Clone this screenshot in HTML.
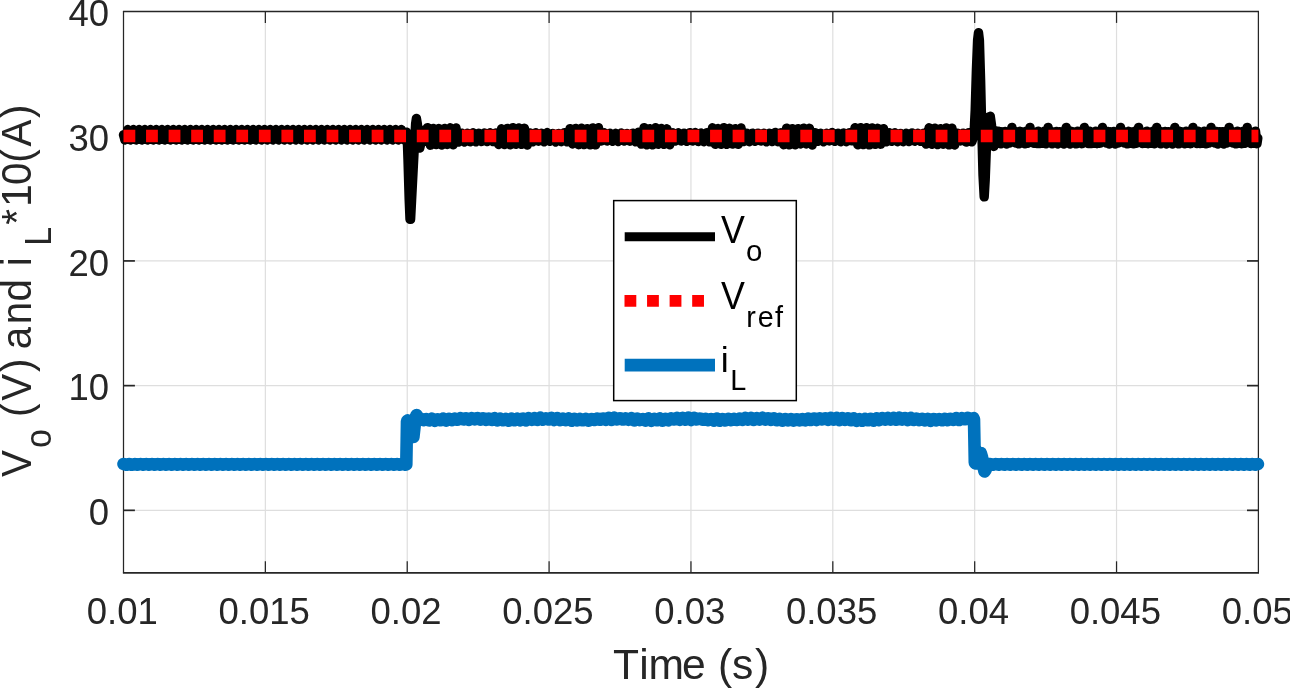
<!DOCTYPE html>
<html lang="en"><head><meta charset="utf-8"><title>Vo, Vref and iL</title>
<style>html,body{margin:0;padding:0;background:#fff}body{width:1290px;height:688px;overflow:hidden}svg{display:block}text{font-family:"Liberation Sans",Arial,Helvetica,sans-serif;fill:#262626;font-kerning:none}</style></head><body>
<svg width="1290" height="688" viewBox="0 0 1290 688">
<rect x="0" y="0" width="1290" height="688" fill="#fff"/>
<g stroke="#dedede" stroke-width="1.2" fill="none">
<line x1="265.36" y1="11.5" x2="265.36" y2="572.7"/>
<line x1="407.23" y1="11.5" x2="407.23" y2="572.7"/>
<line x1="549.09" y1="11.5" x2="549.09" y2="572.7"/>
<line x1="690.95" y1="11.5" x2="690.95" y2="572.7"/>
<line x1="832.81" y1="11.5" x2="832.81" y2="572.7"/>
<line x1="974.68" y1="11.5" x2="974.68" y2="572.7"/>
<line x1="1116.54" y1="11.5" x2="1116.54" y2="572.7"/>
</g><g stroke="#dedede" stroke-width="1.4" fill="none">
<line x1="123.5" y1="510.34" x2="1258.4" y2="510.34"/>
<line x1="123.5" y1="385.63" x2="1258.4" y2="385.63"/>
<line x1="123.5" y1="260.92" x2="1258.4" y2="260.92"/>
<line x1="123.5" y1="136.21" x2="1258.4" y2="136.21"/>
</g>
<g stroke="#262626" fill="none">
<line x1="122.90" y1="11.50" x2="1259.00" y2="11.50" stroke-width="1.7"/>
<line x1="122.90" y1="572.85" x2="1259.00" y2="572.85" stroke-width="1.85"/>
<line x1="123.50" y1="11.50" x2="123.50" y2="572.70" stroke-width="1.25"/>
<line x1="1258.40" y1="11.50" x2="1258.40" y2="572.70" stroke-width="1.25"/>
<line x1="265.36" y1="572.70" x2="265.36" y2="561.30" stroke-width="1.25"/>
<line x1="265.36" y1="11.50" x2="265.36" y2="22.90" stroke-width="1.25"/>
<line x1="407.23" y1="572.70" x2="407.23" y2="561.30" stroke-width="1.25"/>
<line x1="407.23" y1="11.50" x2="407.23" y2="22.90" stroke-width="1.25"/>
<line x1="549.09" y1="572.70" x2="549.09" y2="561.30" stroke-width="1.25"/>
<line x1="549.09" y1="11.50" x2="549.09" y2="22.90" stroke-width="1.25"/>
<line x1="690.95" y1="572.70" x2="690.95" y2="561.30" stroke-width="1.25"/>
<line x1="690.95" y1="11.50" x2="690.95" y2="22.90" stroke-width="1.25"/>
<line x1="832.81" y1="572.70" x2="832.81" y2="561.30" stroke-width="1.25"/>
<line x1="832.81" y1="11.50" x2="832.81" y2="22.90" stroke-width="1.25"/>
<line x1="974.68" y1="572.70" x2="974.68" y2="561.30" stroke-width="1.25"/>
<line x1="974.68" y1="11.50" x2="974.68" y2="22.90" stroke-width="1.25"/>
<line x1="1116.54" y1="572.70" x2="1116.54" y2="561.30" stroke-width="1.25"/>
<line x1="1116.54" y1="11.50" x2="1116.54" y2="22.90" stroke-width="1.25"/>
<line x1="123.50" y1="510.34" x2="134.90" y2="510.34" stroke-width="1.7"/>
<line x1="1258.40" y1="510.34" x2="1247.00" y2="510.34" stroke-width="1.7"/>
<line x1="123.50" y1="385.63" x2="134.90" y2="385.63" stroke-width="1.7"/>
<line x1="1258.40" y1="385.63" x2="1247.00" y2="385.63" stroke-width="1.7"/>
<line x1="123.50" y1="260.92" x2="134.90" y2="260.92" stroke-width="1.7"/>
<line x1="1258.40" y1="260.92" x2="1247.00" y2="260.92" stroke-width="1.7"/>
<line x1="123.50" y1="136.21" x2="134.90" y2="136.21" stroke-width="1.7"/>
<line x1="1258.40" y1="136.21" x2="1247.00" y2="136.21" stroke-width="1.7"/>
</g>
<path d="M123.5 134.8 L124.2 137.4 L124.9 140.0 L125.6 137.4 L126.4 134.7 L127.1 132.1 L127.8 129.5 L128.5 132.1 L129.2 134.8 L129.9 137.4 L130.6 140.0 L131.3 137.4 L132.1 134.7 L132.8 132.1 L133.5 129.5 L134.2 132.1 L134.9 134.8 L135.6 137.4 L136.3 140.0 L137.0 137.4 L137.8 134.7 L138.5 132.1 L139.2 129.5 L139.9 132.1 L140.6 134.8 L141.3 137.4 L142.0 140.0 L142.7 137.4 L143.5 134.7 L144.2 132.1 L144.9 129.5 L145.6 132.1 L146.3 134.8 L147.0 137.4 L147.7 140.0 L148.4 137.4 L149.2 134.7 L149.9 132.1 L150.6 129.5 L151.3 132.1 L152.0 134.8 L152.7 137.4 L153.4 140.0 L154.1 137.4 L154.9 134.7 L155.6 132.1 L156.3 129.5 L157.0 132.1 L157.7 134.8 L158.4 137.4 L159.1 140.0 L159.8 137.4 L160.6 134.7 L161.3 132.1 L162.0 129.5 L162.7 132.1 L163.4 134.8 L164.1 137.4 L164.8 140.0 L165.5 137.4 L166.3 134.7 L167.0 132.1 L167.7 129.5 L168.4 132.1 L169.1 134.8 L169.8 137.4 L170.5 140.0 L171.2 137.4 L172.0 134.7 L172.7 132.1 L173.4 129.5 L174.1 132.1 L174.8 134.8 L175.5 137.4 L176.2 140.0 L176.9 137.4 L177.7 134.7 L178.4 132.1 L179.1 129.5 L179.8 132.1 L180.5 134.8 L181.2 137.4 L181.9 140.0 L182.6 137.4 L183.4 134.7 L184.1 132.1 L184.8 129.5 L185.5 132.1 L186.2 134.8 L186.9 137.4 L187.6 140.0 L188.3 137.4 L189.1 134.7 L189.8 132.1 L190.5 129.5 L191.2 132.1 L191.9 134.8 L192.6 137.4 L193.3 140.0 L194.0 137.4 L194.8 134.7 L195.5 132.1 L196.2 129.5 L196.9 132.1 L197.6 134.8 L198.3 137.4 L199.0 140.0 L199.7 137.4 L200.5 134.7 L201.2 132.1 L201.9 129.5 L202.6 132.1 L203.3 134.8 L204.0 137.4 L204.7 140.0 L205.4 137.4 L206.2 134.7 L206.9 132.1 L207.6 129.5 L208.3 132.1 L209.0 134.8 L209.7 137.4 L210.4 140.0 L211.1 137.4 L211.9 134.7 L212.6 132.1 L213.3 129.5 L214.0 132.1 L214.7 134.8 L215.4 137.4 L216.1 140.0 L216.8 137.4 L217.6 134.7 L218.3 132.1 L219.0 129.5 L219.7 132.1 L220.4 134.8 L221.1 137.4 L221.8 140.0 L222.5 137.4 L223.3 134.7 L224.0 132.1 L224.7 129.5 L225.4 132.1 L226.1 134.8 L226.8 137.4 L227.5 140.0 L228.2 137.4 L229.0 134.7 L229.7 132.1 L230.4 129.5 L231.1 132.1 L231.8 134.8 L232.5 137.4 L233.2 140.0 L233.9 137.4 L234.7 134.7 L235.4 132.1 L236.1 129.5 L236.8 132.1 L237.5 134.8 L238.2 137.4 L238.9 140.0 L239.6 137.4 L240.4 134.7 L241.1 132.1 L241.8 129.5 L242.5 132.1 L243.2 134.8 L243.9 137.4 L244.6 140.0 L245.3 137.4 L246.1 134.7 L246.8 132.1 L247.5 129.5 L248.2 132.1 L248.9 134.8 L249.6 137.4 L250.3 140.0 L251.0 137.4 L251.8 134.7 L252.5 132.1 L253.2 129.5 L253.9 132.1 L254.6 134.8 L255.3 137.4 L256.0 140.0 L256.7 137.4 L257.5 134.7 L258.2 132.1 L258.9 129.5 L259.6 132.1 L260.3 134.8 L261.0 137.4 L261.7 140.0 L262.4 137.4 L263.2 134.7 L263.9 132.1 L264.6 129.5 L265.3 132.1 L266.0 134.8 L266.7 137.4 L267.4 140.0 L268.1 137.4 L268.9 134.7 L269.6 132.1 L270.3 129.5 L271.0 132.1 L271.7 134.8 L272.4 137.4 L273.1 140.0 L273.8 137.4 L274.6 134.7 L275.3 132.1 L276.0 129.5 L276.7 132.1 L277.4 134.8 L278.1 137.4 L278.8 140.0 L279.5 137.4 L280.3 134.7 L281.0 132.1 L281.7 129.5 L282.4 132.1 L283.1 134.8 L283.8 137.4 L284.5 140.0 L285.2 137.4 L286.0 134.7 L286.7 132.1 L287.4 129.5 L288.1 132.1 L288.8 134.8 L289.5 137.4 L290.2 140.0 L290.9 137.4 L291.6 134.8 L292.4 132.1 L293.1 129.5 L293.8 132.1 L294.5 134.7 L295.2 137.4 L295.9 140.0 L296.6 137.4 L297.3 134.8 L298.1 132.1 L298.8 129.5 L299.5 132.1 L300.2 134.7 L300.9 137.4 L301.6 140.0 L302.3 137.4 L303.0 134.8 L303.8 132.1 L304.5 129.5 L305.2 132.1 L305.9 134.7 L306.6 137.4 L307.3 140.0 L308.0 137.4 L308.7 134.8 L309.5 132.1 L310.2 129.5 L310.9 132.1 L311.6 134.7 L312.3 137.4 L313.0 140.0 L313.7 137.4 L314.4 134.8 L315.2 132.1 L315.9 129.5 L316.6 132.1 L317.3 134.7 L318.0 137.4 L318.7 140.0 L319.4 137.4 L320.1 134.8 L320.9 132.1 L321.6 129.5 L322.3 132.1 L323.0 134.7 L323.7 137.4 L324.4 140.0 L325.1 137.4 L325.8 134.8 L326.6 132.1 L327.3 129.5 L328.0 132.1 L328.7 134.7 L329.4 137.4 L330.1 140.0 L330.8 137.4 L331.5 134.8 L332.3 132.1 L333.0 129.5 L333.7 132.1 L334.4 134.7 L335.1 137.4 L335.8 140.0 L336.5 137.4 L337.2 134.8 L338.0 132.1 L338.7 129.5 L339.4 132.1 L340.1 134.7 L340.8 137.4 L341.5 140.0 L342.2 137.4 L342.9 134.8 L343.7 132.1 L344.4 129.5 L345.1 132.1 L345.8 134.7 L346.5 137.4 L347.2 140.0 L347.9 137.4 L348.6 134.8 L349.4 132.1 L350.1 129.5 L350.8 132.1 L351.5 134.7 L352.2 137.4 L352.9 140.0 L353.6 137.4 L354.3 134.8 L355.1 132.1 L355.8 129.5 L356.5 132.1 L357.2 134.7 L357.9 137.4 L358.6 140.0 L359.3 137.4 L360.0 134.8 L360.8 132.1 L361.5 129.5 L362.2 132.1 L362.9 134.7 L363.6 137.4 L364.3 140.0 L365.0 137.4 L365.7 134.8 L366.5 132.1 L367.2 129.5 L367.9 132.1 L368.6 134.7 L369.3 137.4 L370.0 140.0 L370.7 137.4 L371.4 134.8 L372.2 132.1 L372.9 129.5 L373.6 132.1 L374.3 134.7 L375.0 137.4 L375.7 140.0 L376.4 137.4 L377.1 134.8 L377.9 132.1 L378.6 129.5 L379.3 132.1 L380.0 134.7 L380.7 137.4 L381.4 140.0 L382.1 137.4 L382.8 134.8 L383.6 132.1 L384.3 129.5 L385.0 132.1 L385.7 134.7 L386.4 137.4 L387.1 140.0 L387.8 137.4 L388.5 134.8 L389.3 132.1 L390.0 129.5 L390.7 132.1 L391.4 134.7 L392.1 137.4 L392.8 140.0 L393.5 137.4 L394.2 134.8 L395.0 132.1 L395.7 129.5 L396.4 132.1 L397.1 134.7 L397.8 137.4 L398.5 140.0 L399.2 137.4 L399.9 134.8 L400.7 132.1 L401.4 129.5 L402.1 132.1 L402.8 134.7 L403.5 137.4 L404.2 140.0 L404.9 137.4 L405.6 134.8 L406.4 132.1 L407.2 137.0 L408.0 160.0 L409.2 200.0 L410.0 219.3 L410.6 219.3 L411.6 200.0 L413.4 165.0 L414.7 140.0 L415.6 124.0 L416.4 118.4 L417.4 124.0 L418.5 139.0 L419.8 148.0 L421.2 142.0 L422.5 130.5 L423.2 136.9 L423.9 139.4 L424.6 141.3 L425.3 139.8 L426.0 136.6 L426.8 132.0 L427.5 127.6 L428.2 132.7 L428.9 136.1 L429.6 140.2 L430.3 145.2 L431.0 140.5 L431.7 136.8 L432.5 132.3 L433.2 128.4 L433.9 131.9 L434.6 136.6 L435.3 140.9 L436.0 144.6 L436.7 140.8 L437.4 136.6 L438.2 131.8 L438.9 128.5 L439.6 132.4 L440.3 136.2 L441.0 139.9 L441.7 145.0 L442.4 140.5 L443.1 136.7 L443.9 132.8 L444.6 128.5 L445.3 132.8 L446.0 136.3 L446.7 140.9 L447.4 144.5 L448.1 141.0 L448.8 136.9 L449.6 131.8 L450.3 127.8 L451.0 132.0 L451.7 137.0 L452.4 140.4 L453.1 144.8 L453.8 140.3 L454.5 136.4 L455.3 132.2 L456.0 128.0 L456.7 132.5 L457.4 136.5 L458.1 139.7 L458.8 142.0 L459.5 139.9 L460.2 137.6 L461.0 135.6 L461.7 133.1 L462.4 134.6 L463.1 137.6 L463.8 139.9 L464.5 142.0 L465.2 139.4 L465.9 137.5 L466.7 134.7 L467.4 133.3 L468.1 135.1 L468.8 136.9 L469.5 138.8 L470.2 141.9 L470.9 139.9 L471.6 136.7 L472.4 135.4 L473.1 132.8 L473.8 134.6 L474.5 137.0 L475.2 139.7 L475.9 141.9 L476.6 138.8 L477.3 137.3 L478.1 134.5 L478.8 133.2 L479.5 134.8 L480.2 137.7 L480.9 139.9 L481.6 141.5 L482.3 139.9 L483.0 137.0 L483.8 134.5 L484.5 133.0 L485.2 134.5 L485.9 136.8 L486.6 139.2 L487.3 141.6 L488.0 138.9 L488.7 136.7 L489.5 135.5 L490.2 132.7 L490.9 135.6 L491.6 137.7 L492.3 139.2 L493.0 141.5 L493.7 139.4 L494.4 137.4 L495.2 135.2 L495.9 133.0 L496.6 134.0 L497.3 136.9 L498.0 140.3 L498.7 144.5 L499.4 140.8 L500.1 136.1 L500.9 132.1 L501.6 128.8 L502.3 132.3 L503.0 136.5 L503.7 139.9 L504.4 144.5 L505.1 140.6 L505.8 135.8 L506.6 132.4 L507.3 128.4 L508.0 131.8 L508.7 136.6 L509.4 140.5 L510.1 144.8 L510.8 140.3 L511.5 136.6 L512.3 132.6 L513.0 127.6 L513.7 131.8 L514.4 136.6 L515.1 141.1 L515.8 144.3 L516.5 140.4 L517.2 136.5 L518.0 132.1 L518.7 128.0 L519.4 132.1 L520.1 136.2 L520.8 140.6 L521.5 144.4 L522.2 140.4 L522.9 136.7 L523.7 131.7 L524.4 128.3 L525.1 132.6 L525.8 136.2 L526.5 140.2 L527.2 145.0 L527.9 140.0 L528.6 136.0 L529.4 133.5 L530.1 132.9 L530.8 134.6 L531.5 137.0 L532.2 139.2 L532.9 141.9 L533.6 139.3 L534.3 137.6 L535.1 134.7 L535.8 132.7 L536.5 135.2 L537.2 137.7 L537.9 139.3 L538.6 141.2 L539.3 138.9 L540.0 137.2 L540.8 134.7 L541.5 133.3 L542.2 135.5 L542.9 136.8 L543.6 139.1 L544.3 141.9 L545.0 139.5 L545.7 137.6 L546.5 134.9 L547.2 132.5 L547.9 134.8 L548.6 137.6 L549.3 139.1 L550.0 141.3 L550.7 139.3 L551.4 137.1 L552.2 134.9 L552.9 133.4 L553.6 134.6 L554.3 136.6 L555.0 139.9 L555.7 142.0 L556.4 139.9 L557.1 137.1 L557.9 135.6 L558.6 133.4 L559.3 134.7 L560.0 137.5 L560.7 139.8 L561.4 141.7 L562.1 139.4 L562.8 136.9 L563.6 134.9 L564.3 132.6 L565.0 134.5 L565.7 137.3 L566.4 139.1 L567.1 141.9 L567.8 138.4 L568.5 136.9 L569.3 132.7 L570.0 128.7 L570.7 132.8 L571.4 136.9 L572.1 140.6 L572.8 144.0 L573.5 140.8 L574.2 136.0 L575.0 132.1 L575.7 128.4 L576.4 132.3 L577.1 136.3 L577.8 141.0 L578.5 144.7 L579.2 140.3 L579.9 136.1 L580.7 132.7 L581.4 128.2 L582.1 132.6 L582.8 136.2 L583.5 140.1 L584.2 144.6 L584.9 140.9 L585.6 136.0 L586.4 132.7 L587.1 128.7 L587.8 132.7 L588.5 136.8 L589.2 139.9 L589.9 144.8 L590.6 140.9 L591.3 135.9 L592.1 132.0 L592.8 127.9 L593.5 132.3 L594.2 136.3 L594.9 140.5 L595.6 144.9 L596.3 139.9 L597.0 135.9 L597.8 131.9 L598.5 127.7 L599.2 132.0 L599.9 137.0 L600.6 139.6 L601.3 141.1 L602.0 139.4 L602.7 137.0 L603.5 134.8 L604.2 132.7 L604.9 135.2 L605.6 137.3 L606.3 139.2 L607.0 141.1 L607.7 139.1 L608.4 136.7 L609.2 135.1 L609.9 133.2 L610.6 134.9 L611.3 136.7 L612.0 139.0 L612.7 141.3 L613.4 139.5 L614.1 137.5 L614.9 134.9 L615.6 133.3 L616.3 135.2 L617.0 137.1 L617.7 139.2 L618.4 141.5 L619.1 139.6 L619.8 137.1 L620.6 135.3 L621.3 132.9 L622.0 134.7 L622.7 137.2 L623.4 139.6 L624.1 141.0 L624.8 139.3 L625.5 137.1 L626.3 135.5 L627.0 133.4 L627.7 134.9 L628.4 137.7 L629.1 139.7 L629.8 141.2 L630.5 139.3 L631.2 136.7 L632.0 135.4 L632.7 133.1 L633.4 135.5 L634.1 137.6 L634.8 139.6 L635.5 141.8 L636.2 139.4 L636.9 136.7 L637.7 135.2 L638.4 132.3 L639.1 133.3 L639.8 136.7 L640.5 139.9 L641.2 144.1 L641.9 140.0 L642.6 136.9 L643.4 131.9 L644.1 127.6 L644.8 132.7 L645.5 135.9 L646.2 140.9 L646.9 144.8 L647.6 140.9 L648.3 136.9 L649.1 132.4 L649.8 128.6 L650.5 131.7 L651.2 136.7 L651.9 140.5 L652.6 144.9 L653.3 140.0 L654.0 136.7 L654.8 132.8 L655.5 127.7 L656.2 132.1 L656.9 136.5 L657.6 140.9 L658.3 144.3 L659.0 140.1 L659.7 136.1 L660.5 132.4 L661.2 128.5 L661.9 132.2 L662.6 136.2 L663.3 140.4 L664.0 144.4 L664.7 140.4 L665.4 135.9 L666.2 132.3 L666.9 128.8 L667.6 132.2 L668.3 136.7 L669.0 140.1 L669.7 144.8 L670.4 140.5 L671.1 136.6 L671.9 133.7 L672.6 132.8 L673.3 135.2 L674.0 137.7 L674.7 138.9 L675.4 141.0 L676.1 139.6 L676.8 137.7 L677.6 135.1 L678.3 132.8 L679.0 135.3 L679.7 136.8 L680.4 139.1 L681.1 141.1 L681.8 139.5 L682.5 137.0 L683.3 134.7 L684.0 133.1 L684.7 135.6 L685.4 137.0 L686.1 139.6 L686.8 141.4 L687.5 139.8 L688.2 137.3 L689.0 134.8 L689.7 132.6 L690.4 134.5 L691.1 137.2 L691.8 139.2 L692.5 141.1 L693.2 139.2 L693.9 137.0 L694.7 135.4 L695.4 132.5 L696.1 135.6 L696.8 137.2 L697.5 139.5 L698.2 141.5 L698.9 139.8 L699.6 137.6 L700.4 135.1 L701.1 132.9 L701.8 135.3 L702.5 137.6 L703.2 139.2 L703.9 141.8 L704.6 139.9 L705.3 137.2 L706.1 134.7 L706.8 132.6 L707.5 135.3 L708.2 137.4 L708.9 139.9 L709.6 141.9 L710.3 138.8 L711.0 136.0 L711.8 132.0 L712.5 127.8 L713.2 132.5 L713.9 136.8 L714.6 141.0 L715.3 144.3 L716.0 140.9 L716.7 136.2 L717.5 132.2 L718.2 128.5 L718.9 131.8 L719.6 135.9 L720.3 140.9 L721.0 144.4 L721.7 140.3 L722.4 136.5 L723.2 132.5 L723.9 127.6 L724.6 132.1 L725.3 136.3 L726.0 140.5 L726.7 144.3 L727.4 140.6 L728.1 136.9 L728.9 132.2 L729.6 128.3 L730.3 131.8 L731.0 136.1 L731.7 140.7 L732.4 144.1 L733.1 141.0 L733.8 136.9 L734.6 131.8 L735.3 128.7 L736.0 132.1 L736.7 136.7 L737.4 140.8 L738.1 144.4 L738.8 140.7 L739.5 136.6 L740.3 132.7 L741.0 127.9 L741.7 132.9 L742.4 137.0 L743.1 139.3 L743.8 141.5 L744.5 138.9 L745.2 137.2 L746.0 134.9 L746.7 133.2 L747.4 135.3 L748.1 137.3 L748.8 139.0 L749.5 141.7 L750.2 139.5 L750.9 136.8 L751.7 135.5 L752.4 133.1 L753.1 134.6 L753.8 137.7 L754.5 138.9 L755.2 141.3 L755.9 139.6 L756.6 137.3 L757.4 135.1 L758.1 133.1 L758.8 135.0 L759.5 137.0 L760.2 139.0 L760.9 141.0 L761.6 139.6 L762.3 137.5 L763.1 135.1 L763.8 133.2 L764.5 134.9 L765.2 136.9 L765.9 139.2 L766.6 141.9 L767.3 138.8 L768.0 137.2 L768.8 134.7 L769.5 133.2 L770.2 134.9 L770.9 137.0 L771.6 139.2 L772.3 141.5 L773.0 139.7 L773.7 137.0 L774.5 135.5 L775.2 132.4 L775.9 134.8 L776.6 136.7 L777.3 138.9 L778.0 141.8 L778.7 139.6 L779.4 136.8 L780.2 134.7 L780.9 132.8 L781.6 134.0 L782.3 136.8 L783.0 140.8 L783.7 144.7 L784.4 140.1 L785.1 136.3 L785.9 131.9 L786.6 128.2 L787.3 132.4 L788.0 136.0 L788.7 140.2 L789.4 144.9 L790.1 139.9 L790.8 136.8 L791.6 132.8 L792.3 128.7 L793.0 132.2 L793.7 136.5 L794.4 140.6 L795.1 144.8 L795.8 141.1 L796.5 136.6 L797.3 132.1 L798.0 128.6 L798.7 132.3 L799.4 136.5 L800.1 140.8 L800.8 144.0 L801.5 140.8 L802.2 136.6 L803.0 132.3 L803.7 128.2 L804.4 132.3 L805.1 136.0 L805.8 140.5 L806.5 144.0 L807.2 140.5 L807.9 136.6 L808.7 132.2 L809.4 128.3 L810.1 132.9 L810.8 136.9 L811.5 140.1 L812.2 145.0 L812.9 140.3 L813.6 135.9 L814.4 133.6 L815.1 132.6 L815.8 134.5 L816.5 137.2 L817.2 139.9 L817.9 141.3 L818.6 139.8 L819.3 137.4 L820.1 134.6 L820.8 133.3 L821.5 135.2 L822.2 137.7 L822.9 139.6 L823.6 141.8 L824.3 139.2 L825.0 137.6 L825.8 135.6 L826.5 133.3 L827.2 135.0 L827.9 137.5 L828.6 139.3 L829.3 141.0 L830.0 138.8 L830.7 136.7 L831.5 134.7 L832.2 132.5 L832.9 135.0 L833.6 137.4 L834.3 139.4 L835.0 141.4 L835.7 139.5 L836.4 137.0 L837.2 135.0 L837.9 133.2 L838.6 134.9 L839.3 136.8 L840.0 139.8 L840.7 141.8 L841.4 139.2 L842.1 137.0 L842.9 135.1 L843.6 133.0 L844.3 134.7 L845.0 136.6 L845.7 139.0 L846.4 141.8 L847.1 138.9 L847.8 137.2 L848.6 134.7 L849.3 132.6 L850.0 134.7 L850.7 137.1 L851.4 139.0 L852.1 140.9 L852.8 138.7 L853.5 136.0 L854.3 132.3 L855.0 127.7 L855.7 131.7 L856.4 136.3 L857.1 140.4 L857.8 144.8 L858.5 140.0 L859.2 136.3 L860.0 132.2 L860.7 127.6 L861.4 132.9 L862.1 136.1 L862.8 140.0 L863.5 144.6 L864.2 140.1 L864.9 136.5 L865.7 132.1 L866.4 127.7 L867.1 131.8 L867.8 136.7 L868.5 140.2 L869.2 144.9 L869.9 140.5 L870.6 136.9 L871.4 132.1 L872.1 127.9 L872.8 132.0 L873.5 136.8 L874.2 140.7 L874.9 144.4 L875.6 140.0 L876.3 136.6 L877.1 132.9 L877.8 128.3 L878.5 131.7 L879.2 135.8 L879.9 140.0 L880.6 144.2 L881.3 139.9 L882.0 135.9 L882.8 132.5 L883.5 128.7 L884.2 132.3 L884.9 137.0 L885.6 139.0 L886.3 141.9 L887.0 139.9 L887.7 137.7 L888.5 134.5 L889.2 132.7 L889.9 135.2 L890.6 137.7 L891.3 138.9 L892.0 141.3 L892.7 139.8 L893.4 136.7 L894.2 134.9 L894.9 132.7 L895.6 135.3 L896.3 137.7 L897.0 139.0 L897.7 141.8 L898.4 139.6 L899.1 137.6 L899.9 135.1 L900.6 133.4 L901.3 134.9 L902.0 137.1 L902.7 139.0 L903.4 141.8 L904.1 139.3 L904.8 136.9 L905.6 134.7 L906.3 133.2 L907.0 135.2 L907.7 137.5 L908.4 139.2 L909.1 141.5 L909.8 138.9 L910.5 137.5 L911.3 134.5 L912.0 132.9 L912.7 135.4 L913.4 137.4 L914.1 138.9 L914.8 141.2 L915.5 139.8 L916.2 137.4 L917.0 135.5 L917.7 133.3 L918.4 135.0 L919.1 137.7 L919.8 139.6 L920.5 141.3 L921.2 139.2 L921.9 136.7 L922.7 134.9 L923.4 133.4 L924.1 133.1 L924.8 136.5 L925.5 140.0 L926.2 144.1 L926.9 140.7 L927.6 136.1 L928.4 131.8 L929.1 127.8 L929.8 132.5 L930.5 136.5 L931.2 139.9 L931.9 144.3 L932.6 141.1 L933.3 136.1 L934.1 132.4 L934.8 128.1 L935.5 132.6 L936.2 136.5 L936.9 140.8 L937.6 144.6 L938.3 140.1 L939.0 136.0 L939.8 131.8 L940.5 128.6 L941.2 131.8 L941.9 135.8 L942.6 141.1 L943.3 144.2 L944.0 141.0 L944.7 135.9 L945.5 132.3 L946.2 127.9 L946.9 132.7 L947.6 136.5 L948.3 140.7 L949.0 144.9 L949.7 140.9 L950.4 136.2 L951.2 132.4 L951.9 128.1 L952.6 131.8 L953.3 136.8 L954.0 140.6 L954.7 145.0 L955.4 139.7 L956.1 136.4 L956.9 133.8 L957.6 133.2 L958.3 134.5 L959.0 137.0 L959.7 139.3 L960.4 141.0 L961.1 139.4 L961.8 137.5 L962.6 135.0 L963.3 133.1 L964.0 135.2 L964.7 136.9 L965.4 139.2 L966.1 142.1 L966.8 139.2 L967.5 137.1 L968.3 134.6 L969.0 132.6 L969.7 134.6 L970.4 137.7 L971.1 139.6 L971.8 141.9 L972.5 139.9 L973.2 137.3 L974.0 134.0 L975.2 110.0 L976.4 70.0 L977.6 40.0 L978.5 32.6 L979.4 40.0 L980.6 80.0 L981.8 130.0 L983.0 175.0 L984.2 196.9 L985.2 180.0 L986.3 150.0 L987.6 125.0 L989.0 117.0 L990.3 116.3 L991.5 125.0 L992.6 140.0 L993.8 146.5 L995.0 140.0 L996.2 131.0 L997.6 143.1 L998.3 137.1 L999.1 131.3 L999.8 137.7 L1000.6 143.9 L1001.3 138.0 L1002.1 131.8 L1002.9 137.3 L1003.6 143.0 L1004.4 137.1 L1005.1 131.5 L1005.9 137.8 L1006.6 144.0 L1007.4 137.9 L1008.1 131.6 L1008.9 137.2 L1009.6 143.0 L1010.4 137.2 L1011.1 131.7 L1011.9 127.4 L1012.7 133.9 L1013.4 140.4 L1014.2 141.1 L1014.9 137.1 L1015.7 143.0 L1016.4 137.4 L1017.2 131.8 L1017.9 138.0 L1018.7 143.9 L1019.4 137.6 L1020.2 131.3 L1021.0 137.1 L1021.7 143.1 L1022.5 137.6 L1023.2 132.0 L1024.0 138.0 L1024.7 143.8 L1025.5 137.5 L1026.2 131.2 L1027.0 137.1 L1027.7 143.3 L1028.5 137.7 L1029.2 132.1 L1030.0 127.4 L1030.8 133.9 L1031.5 140.4 L1032.3 141.1 L1033.0 137.1 L1033.8 143.4 L1034.5 137.9 L1035.3 132.1 L1036.0 137.9 L1036.8 143.5 L1037.5 137.2 L1038.3 131.1 L1039.1 137.3 L1039.8 143.6 L1040.6 138.0 L1041.3 132.1 L1042.1 137.7 L1042.8 143.3 L1043.6 137.1 L1044.3 131.2 L1045.1 137.4 L1045.8 143.8 L1046.6 138.0 L1047.3 132.0 L1048.1 127.4 L1048.9 133.9 L1049.6 140.4 L1050.4 141.1 L1051.1 137.6 L1051.9 143.9 L1052.6 138.0 L1053.4 131.9 L1054.1 137.4 L1054.9 143.0 L1055.6 137.1 L1056.4 131.4 L1057.1 137.8 L1057.9 144.0 L1058.7 138.0 L1059.4 131.7 L1060.2 137.2 L1060.9 143.0 L1061.7 137.2 L1062.4 131.6 L1063.2 137.9 L1063.9 144.0 L1064.7 137.9 L1065.4 131.5 L1066.2 127.4 L1067.0 133.9 L1067.7 140.4 L1068.5 141.2 L1069.2 138.0 L1070.0 144.0 L1070.7 137.7 L1071.5 131.3 L1072.2 137.1 L1073.0 143.1 L1073.7 137.5 L1074.5 131.9 L1075.2 138.0 L1076.0 143.9 L1076.8 137.5 L1077.5 131.2 L1078.3 137.1 L1079.0 143.2 L1079.8 137.7 L1080.5 132.0 L1081.3 138.0 L1082.0 143.7 L1082.8 137.4 L1083.5 131.1 L1084.3 127.4 L1085.1 133.9 L1085.8 140.4 L1086.6 141.3 L1087.3 137.9 L1088.1 143.5 L1088.8 137.2 L1089.6 131.1 L1090.3 137.2 L1091.1 143.6 L1091.8 138.0 L1092.6 132.1 L1093.3 137.8 L1094.1 143.4 L1094.9 137.1 L1095.6 131.1 L1096.4 137.4 L1097.1 143.7 L1097.9 138.0 L1098.6 132.0 L1099.4 137.6 L1100.1 143.2 L1100.9 137.1 L1101.6 131.2 L1102.4 127.4 L1103.2 133.9 L1103.9 140.4 L1104.7 141.3 L1105.4 137.5 L1106.2 143.1 L1106.9 137.1 L1107.7 131.4 L1108.4 137.7 L1109.2 144.0 L1109.9 138.0 L1110.7 131.8 L1111.4 137.3 L1112.2 143.0 L1113.0 137.1 L1113.7 131.5 L1114.5 137.9 L1115.2 144.0 L1116.0 137.9 L1116.7 131.6 L1117.5 137.2 L1118.2 143.0 L1119.0 137.3 L1119.7 131.7 L1120.5 127.4 L1121.3 133.9 L1122.0 140.4 L1122.8 141.1 L1123.5 137.1 L1124.3 143.1 L1125.0 137.4 L1125.8 131.9 L1126.5 138.0 L1127.3 143.9 L1128.0 137.6 L1128.8 131.3 L1129.5 137.1 L1130.3 143.2 L1131.1 137.6 L1131.8 132.0 L1132.6 138.0 L1133.3 143.8 L1134.1 137.4 L1134.8 131.2 L1135.6 137.1 L1136.3 143.3 L1137.1 137.8 L1137.8 132.1 L1138.6 127.4 L1139.4 133.9 L1140.1 140.4 L1140.9 141.1 L1141.6 137.2 L1142.4 143.5 L1143.1 137.9 L1143.9 132.1 L1144.6 137.9 L1145.4 143.4 L1146.1 137.1 L1146.9 131.1 L1147.6 137.3 L1148.4 143.7 L1149.2 138.0 L1149.9 132.1 L1150.7 137.7 L1151.4 143.3 L1152.2 137.1 L1152.9 131.2 L1153.7 137.5 L1154.4 143.8 L1155.2 138.0 L1155.9 132.0 L1156.7 127.4 L1157.5 133.9 L1158.2 140.4 L1159.0 141.1 L1159.7 137.7 L1160.5 143.9 L1161.2 138.0 L1162.0 131.8 L1162.7 137.4 L1163.5 143.0 L1164.2 137.1 L1165.0 131.5 L1165.7 137.8 L1166.5 144.0 L1167.3 137.9 L1168.0 131.6 L1168.8 137.2 L1169.5 143.0 L1170.3 137.2 L1171.0 131.6 L1171.8 137.9 L1172.5 144.0 L1173.3 137.8 L1174.0 131.5 L1174.8 127.4 L1175.6 133.9 L1176.3 140.4 L1177.1 141.2 L1177.8 138.0 L1178.6 143.9 L1179.3 137.7 L1180.1 131.3 L1180.8 137.1 L1181.6 143.1 L1182.3 137.5 L1183.1 132.0 L1183.8 138.0 L1184.6 143.8 L1185.4 137.5 L1186.1 131.2 L1186.9 137.1 L1187.6 143.3 L1188.4 137.7 L1189.1 132.1 L1189.9 138.0 L1190.6 143.7 L1191.4 137.3 L1192.1 131.1 L1192.9 127.4 L1193.7 133.9 L1194.4 140.4 L1195.2 141.3 L1195.9 137.9 L1196.7 143.5 L1197.4 137.2 L1198.2 131.1 L1198.9 137.3 L1199.7 143.6 L1200.4 138.0 L1201.2 132.1 L1201.9 137.8 L1202.7 143.3 L1203.5 137.1 L1204.2 131.2 L1205.0 137.4 L1205.7 143.8 L1206.5 138.0 L1207.2 132.0 L1208.0 137.6 L1208.7 143.2 L1209.5 137.1 L1210.2 131.3 L1211.0 127.4 L1211.8 133.9 L1212.5 140.4 L1213.3 141.3 L1214.0 137.4 L1214.8 143.1 L1215.5 137.1 L1216.3 131.4 L1217.0 137.8 L1217.8 144.0 L1218.5 138.0 L1219.3 131.7 L1220.0 137.3 L1220.8 143.0 L1221.6 137.2 L1222.3 131.6 L1223.1 137.9 L1223.8 144.0 L1224.6 137.9 L1225.3 131.5 L1226.1 137.1 L1226.8 143.0 L1227.6 137.3 L1228.3 131.7 L1229.1 127.4 L1229.9 133.9 L1230.6 140.4 L1231.4 141.1 L1232.1 137.1 L1232.9 143.1 L1233.6 137.5 L1234.4 131.9 L1235.1 138.0 L1235.9 143.9 L1236.6 137.6 L1237.4 131.2 L1238.1 137.1 L1238.9 143.2 L1239.7 137.6 L1240.4 132.0 L1241.2 138.0 L1241.9 143.7 L1242.7 137.4 L1243.4 131.1 L1244.2 137.1 L1244.9 143.4 L1245.7 137.8 L1246.4 132.1 L1247.2 127.4 L1248.0 133.9 L1248.7 140.4 L1249.5 141.1 L1250.2 137.2 L1251.0 143.5 L1251.7 137.9 L1252.5 132.1 L1253.2 137.8 L1254.0 143.4 L1254.7 137.1 L1255.5 131.1 L1256.2 137.3 L1257.0 143.7 L1257.8 138.0" fill="none" stroke="#000" stroke-width="9.4" stroke-linejoin="round" stroke-linecap="round"/>
<line x1="123.50" y1="135.9" x2="1258.40" y2="135.9" stroke="#ff0000" stroke-width="12.5" stroke-dasharray="11.8 10.76"/>
<path d="M123.5 464.0 L124.9 464.4 L126.3 464.8 L127.8 464.4 L129.2 464.0 L130.6 464.4 L132.1 464.8 L133.5 464.4 L134.9 464.1 L136.3 464.4 L137.8 464.7 L139.2 464.4 L140.6 464.1 L142.0 464.4 L143.5 464.7 L144.9 464.4 L146.3 464.1 L147.7 464.4 L149.2 464.7 L150.6 464.4 L152.0 464.1 L153.4 464.4 L154.9 464.7 L156.3 464.4 L157.7 464.1 L159.1 464.4 L160.6 464.7 L162.0 464.4 L163.4 464.1 L164.8 464.4 L166.3 464.7 L167.7 464.4 L169.1 464.1 L170.5 464.4 L172.0 464.7 L173.4 464.4 L174.8 464.1 L176.2 464.4 L177.7 464.7 L179.1 464.4 L180.5 464.1 L181.9 464.4 L183.4 464.7 L184.8 464.4 L186.2 464.1 L187.6 464.4 L189.1 464.7 L190.5 464.4 L191.9 464.1 L193.3 464.4 L194.8 464.7 L196.2 464.4 L197.6 464.1 L199.0 464.4 L200.5 464.7 L201.9 464.4 L203.3 464.1 L204.7 464.4 L206.2 464.7 L207.6 464.4 L209.0 464.1 L210.4 464.4 L211.9 464.7 L213.3 464.4 L214.7 464.1 L216.1 464.4 L217.6 464.7 L219.0 464.4 L220.4 464.1 L221.8 464.4 L223.3 464.7 L224.7 464.4 L226.1 464.1 L227.5 464.4 L229.0 464.7 L230.4 464.4 L231.8 464.1 L233.2 464.4 L234.7 464.7 L236.1 464.4 L237.5 464.1 L238.9 464.4 L240.4 464.7 L241.8 464.4 L243.2 464.1 L244.6 464.4 L246.1 464.7 L247.5 464.4 L248.9 464.1 L250.3 464.4 L251.8 464.7 L253.2 464.4 L254.6 464.1 L256.0 464.4 L257.5 464.7 L258.9 464.4 L260.3 464.1 L261.7 464.4 L263.2 464.7 L264.6 464.4 L266.0 464.1 L267.4 464.4 L268.9 464.7 L270.3 464.4 L271.7 464.1 L273.1 464.4 L274.6 464.7 L276.0 464.4 L277.4 464.1 L278.8 464.4 L280.3 464.7 L281.7 464.4 L283.1 464.1 L284.5 464.4 L286.0 464.7 L287.4 464.4 L288.8 464.1 L290.2 464.4 L291.7 464.7 L293.1 464.4 L294.5 464.1 L295.9 464.4 L297.4 464.7 L298.8 464.4 L300.2 464.1 L301.6 464.4 L303.1 464.7 L304.5 464.4 L305.9 464.1 L307.3 464.4 L308.8 464.7 L310.2 464.4 L311.6 464.1 L313.0 464.4 L314.5 464.7 L315.9 464.4 L317.3 464.1 L318.7 464.4 L320.2 464.7 L321.6 464.4 L323.0 464.1 L324.4 464.4 L325.9 464.7 L327.3 464.4 L328.7 464.1 L330.1 464.4 L331.6 464.7 L333.0 464.4 L334.4 464.1 L335.8 464.4 L337.3 464.7 L338.7 464.4 L340.1 464.1 L341.5 464.4 L343.0 464.7 L344.4 464.4 L345.8 464.1 L347.2 464.4 L348.7 464.7 L350.1 464.4 L351.5 464.1 L352.9 464.4 L354.4 464.7 L355.8 464.4 L357.2 464.1 L358.6 464.4 L360.1 464.7 L361.5 464.4 L362.9 464.1 L364.3 464.4 L365.8 464.7 L367.2 464.4 L368.6 464.1 L370.0 464.4 L371.5 464.7 L372.9 464.4 L374.3 464.1 L375.7 464.4 L377.2 464.7 L378.6 464.4 L380.0 464.1 L381.4 464.4 L382.9 464.7 L384.3 464.4 L385.7 464.1 L387.1 464.4 L388.6 464.7 L390.0 464.4 L391.4 464.1 L392.8 464.4 L394.3 464.7 L395.7 464.4 L397.1 464.1 L398.5 464.4 L400.0 464.7 L401.4 464.4 L402.8 464.1 L404.2 464.4 L405.7 464.7 L406.3 464.4 L406.7 440.0 L407.0 421.0 L407.6 420.5 L409.5 421.5 L411.0 428.0 L412.3 436.0 L413.4 437.0 L414.4 428.0 L415.5 417.5 L416.6 415.0 L417.8 417.5 L419.2 419.5 L420.5 418.7 L421.9 419.4 L423.4 420.1 L424.8 419.7 L426.2 419.0 L427.6 419.8 L429.1 420.4 L430.5 419.8 L431.9 418.8 L433.3 420.0 L434.8 420.8 L436.2 419.6 L437.6 419.2 L439.0 419.6 L440.5 420.3 L441.9 419.9 L443.3 418.8 L444.7 419.7 L446.2 420.5 L447.6 419.3 L449.0 418.9 L450.4 419.3 L451.9 420.2 L453.3 419.3 L454.7 418.6 L456.1 419.4 L457.6 419.8 L459.0 418.9 L460.4 418.1 L461.8 418.9 L463.3 419.5 L464.7 418.7 L466.1 418.2 L467.5 418.9 L469.0 419.9 L470.4 419.1 L471.8 418.2 L473.2 418.7 L474.7 419.4 L476.1 418.7 L477.5 418.0 L478.9 418.8 L480.4 419.7 L481.8 418.8 L483.2 418.3 L484.6 418.9 L486.1 419.8 L487.5 419.3 L488.9 418.5 L490.3 419.1 L491.8 419.9 L493.2 419.5 L494.6 418.3 L496.0 419.2 L497.5 420.3 L498.9 419.6 L500.3 418.6 L501.7 419.4 L503.2 420.3 L504.6 419.9 L506.0 418.9 L507.4 420.0 L508.9 420.7 L510.3 420.0 L511.7 418.7 L513.1 419.5 L514.6 420.2 L516.0 419.6 L517.4 418.7 L518.8 419.3 L520.3 420.3 L521.7 419.2 L523.1 418.5 L524.5 419.2 L526.0 420.3 L527.4 419.2 L528.8 418.2 L530.2 418.8 L531.7 419.8 L533.1 419.1 L534.5 418.2 L535.9 419.1 L537.3 419.8 L538.8 418.7 L540.2 417.8 L541.6 418.9 L543.0 419.7 L544.5 418.8 L545.9 418.2 L547.3 418.8 L548.7 419.5 L550.2 418.6 L551.6 417.8 L553.0 419.0 L554.4 420.0 L555.9 419.2 L557.3 418.2 L558.7 419.2 L560.1 420.2 L561.6 419.4 L563.0 418.6 L564.4 419.3 L565.8 420.2 L567.3 419.3 L568.7 418.5 L570.1 419.7 L571.5 420.7 L573.0 419.7 L574.4 418.8 L575.8 419.6 L577.2 420.5 L578.7 419.9 L580.1 418.9 L581.5 420.0 L582.9 420.3 L584.4 419.6 L585.8 418.9 L587.2 419.6 L588.6 420.6 L590.1 419.8 L591.5 419.0 L592.9 419.5 L594.3 419.9 L595.8 419.4 L597.2 418.5 L598.6 419.2 L600.0 419.8 L601.5 419.2 L602.9 418.5 L604.3 418.7 L605.7 419.8 L607.2 418.8 L608.6 418.0 L610.0 419.0 L611.4 419.9 L612.9 418.8 L614.3 417.8 L615.7 419.0 L617.1 419.4 L618.6 418.7 L620.0 418.2 L621.4 418.7 L622.8 419.5 L624.3 419.2 L625.7 418.4 L627.1 418.9 L628.5 419.8 L630.0 419.0 L631.4 418.2 L632.8 419.1 L634.2 420.4 L635.7 419.1 L637.1 418.5 L638.5 419.3 L639.9 420.1 L641.4 419.6 L642.8 419.0 L644.2 419.9 L645.6 420.6 L647.1 419.9 L648.5 418.6 L649.9 419.6 L651.3 420.8 L652.8 419.5 L654.2 418.8 L655.6 419.7 L657.0 420.3 L658.5 419.7 L659.9 418.5 L661.3 419.4 L662.7 420.6 L664.2 419.2 L665.6 418.8 L667.0 419.1 L668.4 420.3 L669.9 419.3 L671.3 418.4 L672.7 418.9 L674.1 419.5 L675.6 419.1 L677.0 417.9 L678.4 418.7 L679.8 419.8 L681.3 419.0 L682.7 417.7 L684.1 419.0 L685.5 419.6 L687.0 418.7 L688.4 417.7 L689.8 418.7 L691.2 419.9 L692.7 418.7 L694.1 417.8 L695.5 418.7 L696.9 419.5 L698.4 418.9 L699.8 418.5 L701.2 418.9 L702.6 419.8 L704.1 419.5 L705.5 418.8 L706.9 419.7 L708.3 420.1 L709.8 419.4 L711.2 419.0 L712.6 419.6 L714.0 420.6 L715.5 419.6 L716.9 418.6 L718.3 419.6 L719.7 420.7 L721.2 419.9 L722.6 419.0 L724.0 419.7 L725.4 420.5 L726.9 419.7 L728.3 418.9 L729.7 419.8 L731.1 420.2 L732.6 419.6 L734.0 418.9 L735.4 419.6 L736.8 420.0 L738.3 419.6 L739.7 418.6 L741.1 419.0 L742.5 419.8 L744.0 418.9 L745.4 417.9 L746.8 419.2 L748.2 419.6 L749.7 419.1 L751.1 417.8 L752.5 418.5 L753.9 419.8 L755.4 418.9 L756.8 418.2 L758.2 418.9 L759.6 419.6 L761.1 418.9 L762.5 417.8 L763.9 418.9 L765.3 419.6 L766.8 418.7 L768.2 418.2 L769.6 418.9 L771.0 419.9 L772.5 419.1 L773.9 418.3 L775.3 419.2 L776.7 420.2 L778.2 419.7 L779.6 418.9 L781.0 419.7 L782.4 420.6 L783.9 419.5 L785.3 419.1 L786.7 419.5 L788.1 420.3 L789.6 419.7 L791.0 419.1 L792.4 419.7 L793.8 420.6 L795.3 419.6 L796.7 419.2 L798.1 419.7 L799.5 420.4 L801.0 419.6 L802.4 419.0 L803.8 419.8 L805.2 420.3 L806.7 419.4 L808.1 418.6 L809.5 419.0 L810.9 420.0 L812.4 419.4 L813.8 418.5 L815.2 418.8 L816.6 420.0 L818.1 418.9 L819.5 418.4 L820.9 418.8 L822.3 419.4 L823.8 418.8 L825.2 418.2 L826.6 418.7 L828.0 419.8 L829.5 418.9 L830.9 417.9 L832.3 418.7 L833.7 419.6 L835.2 418.8 L836.6 418.0 L838.0 419.0 L839.4 420.0 L840.9 419.1 L842.3 418.1 L843.7 419.0 L845.1 419.9 L846.6 419.3 L848.0 418.3 L849.4 419.1 L850.8 420.2 L852.3 419.4 L853.7 418.5 L855.1 419.6 L856.5 420.7 L858.0 419.7 L859.4 419.1 L860.8 419.9 L862.2 420.7 L863.7 420.0 L865.1 418.9 L866.5 419.8 L867.9 420.3 L869.4 419.9 L870.8 418.8 L872.2 419.6 L873.6 420.6 L875.1 419.4 L876.5 418.5 L877.9 419.6 L879.3 420.2 L880.8 419.0 L882.2 418.1 L883.6 419.1 L885.0 419.6 L886.5 419.2 L887.9 418.0 L889.3 418.8 L890.7 419.6 L892.2 418.9 L893.6 418.0 L895.0 418.9 L896.4 419.7 L897.9 418.7 L899.3 417.7 L900.7 419.0 L902.1 419.7 L903.6 418.5 L905.0 418.0 L906.4 419.0 L907.8 420.0 L909.3 418.7 L910.7 417.9 L912.1 419.0 L913.5 419.9 L915.0 419.4 L916.4 418.6 L917.8 419.2 L919.2 420.1 L920.7 419.5 L922.1 418.9 L923.5 419.3 L924.9 420.3 L926.4 419.4 L927.8 418.9 L929.2 419.4 L930.6 420.8 L932.1 419.8 L933.5 419.0 L934.9 419.5 L936.3 420.4 L937.8 419.7 L939.2 419.1 L940.6 419.7 L942.0 420.3 L943.5 419.9 L944.9 418.9 L946.3 419.5 L947.7 420.1 L949.2 419.3 L950.6 418.8 L952.0 419.1 L953.4 420.0 L954.9 419.2 L956.3 418.2 L957.7 419.2 L959.1 420.0 L960.6 419.1 L962.0 418.2 L963.4 418.7 L964.8 419.3 L966.3 418.7 L967.7 417.8 L969.1 418.6 L970.5 419.8 L972.0 418.6 L973.4 418.2 L974.0 419.5 L974.4 440.0 L974.8 462.5 L975.6 463.5 L977.5 462.0 L979.3 456.0 L980.8 453.0 L982.0 457.0 L983.2 466.0 L984.5 471.5 L985.8 469.5 L987.0 465.5 L988.5 464.0 L990.0 464.0 L991.4 464.4 L992.8 464.7 L994.3 464.4 L995.7 464.1 L997.1 464.4 L998.5 464.7 L1000.0 464.4 L1001.4 464.1 L1002.8 464.4 L1004.2 464.7 L1005.7 464.4 L1007.1 464.1 L1008.5 464.4 L1009.9 464.7 L1011.4 464.4 L1012.8 464.1 L1014.2 464.4 L1015.6 464.7 L1017.1 464.4 L1018.5 464.1 L1019.9 464.4 L1021.3 464.7 L1022.8 464.4 L1024.2 464.1 L1025.6 464.4 L1027.0 464.7 L1028.5 464.4 L1029.9 464.1 L1031.3 464.4 L1032.7 464.7 L1034.2 464.4 L1035.6 464.1 L1037.0 464.4 L1038.4 464.7 L1039.9 464.4 L1041.3 464.1 L1042.7 464.4 L1044.1 464.7 L1045.6 464.4 L1047.0 464.1 L1048.4 464.4 L1049.8 464.7 L1051.3 464.4 L1052.7 464.1 L1054.1 464.4 L1055.5 464.7 L1057.0 464.4 L1058.4 464.1 L1059.8 464.4 L1061.2 464.7 L1062.7 464.4 L1064.1 464.1 L1065.5 464.4 L1066.9 464.7 L1068.4 464.4 L1069.8 464.1 L1071.2 464.4 L1072.6 464.7 L1074.1 464.4 L1075.5 464.1 L1076.9 464.4 L1078.3 464.7 L1079.8 464.4 L1081.2 464.1 L1082.6 464.4 L1084.0 464.7 L1085.5 464.4 L1086.9 464.1 L1088.3 464.4 L1089.7 464.7 L1091.2 464.4 L1092.6 464.1 L1094.0 464.4 L1095.4 464.7 L1096.9 464.4 L1098.3 464.1 L1099.7 464.4 L1101.1 464.7 L1102.6 464.4 L1104.0 464.1 L1105.4 464.4 L1106.8 464.7 L1108.3 464.4 L1109.7 464.1 L1111.1 464.4 L1112.5 464.7 L1114.0 464.4 L1115.4 464.1 L1116.8 464.4 L1118.2 464.7 L1119.7 464.4 L1121.1 464.1 L1122.5 464.4 L1123.9 464.7 L1125.4 464.4 L1126.8 464.1 L1128.2 464.4 L1129.6 464.7 L1131.1 464.4 L1132.5 464.1 L1133.9 464.4 L1135.3 464.7 L1136.8 464.4 L1138.2 464.1 L1139.6 464.4 L1141.0 464.7 L1142.5 464.4 L1143.9 464.1 L1145.3 464.4 L1146.7 464.7 L1148.2 464.4 L1149.6 464.1 L1151.0 464.4 L1152.4 464.7 L1153.9 464.4 L1155.3 464.1 L1156.7 464.4 L1158.1 464.7 L1159.6 464.4 L1161.0 464.1 L1162.4 464.4 L1163.8 464.7 L1165.3 464.4 L1166.7 464.1 L1168.1 464.4 L1169.5 464.7 L1171.0 464.4 L1172.4 464.1 L1173.8 464.4 L1175.2 464.7 L1176.7 464.4 L1178.1 464.1 L1179.5 464.4 L1180.9 464.7 L1182.4 464.4 L1183.8 464.1 L1185.2 464.4 L1186.6 464.7 L1188.1 464.4 L1189.5 464.1 L1190.9 464.4 L1192.3 464.7 L1193.8 464.4 L1195.2 464.1 L1196.6 464.4 L1198.0 464.7 L1199.5 464.4 L1200.9 464.1 L1202.3 464.4 L1203.7 464.7 L1205.2 464.4 L1206.6 464.1 L1208.0 464.4 L1209.4 464.7 L1210.9 464.4 L1212.3 464.1 L1213.7 464.4 L1215.1 464.7 L1216.6 464.4 L1218.0 464.1 L1219.4 464.4 L1220.8 464.7 L1222.3 464.4 L1223.7 464.1 L1225.1 464.4 L1226.5 464.7 L1228.0 464.4 L1229.4 464.1 L1230.8 464.4 L1232.2 464.7 L1233.7 464.4 L1235.1 464.1 L1236.5 464.4 L1237.9 464.7 L1239.4 464.4 L1240.8 464.1 L1242.2 464.4 L1243.6 464.7 L1245.1 464.4 L1246.5 464.1 L1247.9 464.4 L1249.3 464.7 L1250.8 464.4 L1252.2 464.1 L1253.6 464.4 L1255.0 464.7 L1256.5 464.4 L1257.9 464.1" fill="none" stroke="#0072bd" stroke-width="12.6" stroke-linejoin="round" stroke-linecap="round"/>
<g font-size="36.5px">
<text transform="translate(109.1,525.1) scale(1,1.03)" text-anchor="end">0</text>
<text transform="translate(109.1,400.4) scale(1,1.03)" text-anchor="end">10</text>
<text transform="translate(109.1,275.7) scale(1,1.03)" text-anchor="end">20</text>
<text transform="translate(109.1,151.0) scale(1,1.03)" text-anchor="end">30</text>
<text transform="translate(109.1,26.3) scale(1,1.03)" text-anchor="end">40</text>
<text transform="translate(122.3,624.2) scale(1,1.03)" text-anchor="middle">0.01</text>
<text transform="translate(264.2,624.2) scale(1,1.03)" text-anchor="middle">0.015</text>
<text transform="translate(406.0,624.2) scale(1,1.03)" text-anchor="middle">0.02</text>
<text transform="translate(547.9,624.2) scale(1,1.03)" text-anchor="middle">0.025</text>
<text transform="translate(689.8,624.2) scale(1,1.03)" text-anchor="middle">0.03</text>
<text transform="translate(831.6,624.2) scale(1,1.03)" text-anchor="middle">0.035</text>
<text transform="translate(973.5,624.2) scale(1,1.03)" text-anchor="middle">0.04</text>
<text transform="translate(1115.3,624.2) scale(1,1.03)" text-anchor="middle">0.045</text>
<text transform="translate(1257.2,624.2) scale(1,1.03)" text-anchor="middle">0.05</text>
</g>
<text transform="translate(691.2,678.6) scale(1.06,1.045)" font-size="40.2px" text-anchor="middle" dx="0 0 0 -1.9 0 0.47 -0.28 1.7">Time (s)</text>
<g transform="translate(31,478) rotate(-90) scale(1,1.08)" font-size="40.2px">
<text y="0"><tspan x="1.0">V</tspan><tspan x="30.0" y="18.5" font-size="34px">o</tspan><tspan x="60.9 77.3 106 118 128.7 153.7 176.5 198 211.7" y="0">(V) and i</tspan><tspan x="232.3" y="18.5" font-size="34px">L</tspan><tspan x="253.2 271.3 292.9 315.3 331.6 360" y="0">*10(A)</tspan></text>
</g>
<rect x="613.7" y="200.6" width="182.6" height="200" fill="#fff" stroke="#000" stroke-width="1.5"/>
<line x1="624.7" y1="236.8" x2="715" y2="236.8" stroke="#000" stroke-width="9.0"/>
<line x1="624.5" y1="300.9" x2="714" y2="300.9" stroke="#ff0000" stroke-width="11.9" stroke-dasharray="11.8 10.76"/>
<line x1="624.7" y1="365.15" x2="715" y2="365.15" stroke="#0072bd" stroke-width="12.6"/>
<g font-size="35.8px" style="fill:#000">
<text transform="translate(721,242.8) scale(1,1.07)" style="fill:#000">V</text><text x="746.1" y="261.3" font-size="29.4px" style="fill:#000">o</text>
<text transform="translate(721,309.2) scale(1,1.07)" style="fill:#000">V</text><text x="746.3 757.8 775.1" y="327" font-size="28.8px" style="fill:#000">ref</text>
<text x="720.8" y="371.5" style="fill:#000">i</text><text x="730.3" y="390" font-size="28.8px" style="fill:#000">L</text>
</g>
</svg></body></html>
